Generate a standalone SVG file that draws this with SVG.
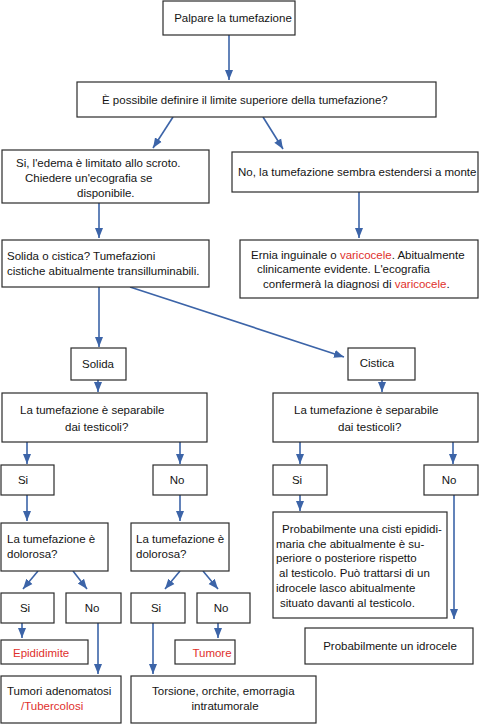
<svg xmlns="http://www.w3.org/2000/svg" width="480" height="724" viewBox="0 0 480 724">
<style>
  rect.b { fill: #ffffff; stroke: #2b2b2b; stroke-width: 1.2; }
  text { font-family: "Liberation Sans", Arial, sans-serif; font-size: 11.5px; fill: #141414; }
  .r { fill: #e0302c; }
  .m { text-anchor: middle; }
  #connectors line { stroke: #3c64a8; stroke-width: 1.6; fill: none; marker-end: url(#ah); }
</style>
<defs>
  <marker id="ah" markerUnits="userSpaceOnUse" markerWidth="10" markerHeight="10" viewBox="0 0 10 10" refX="10" refY="5" orient="auto">
    <path d="M0,1 L10,5 L0,9 Z" fill="#3c64a8"/>
  </marker>
</defs>
<rect width="480" height="724" fill="#ffffff"/>

<g id="connectors">
  <line x1="229" y1="35" x2="229" y2="80"/>
  <line x1="173" y1="117" x2="153" y2="148"/>
  <line x1="263" y1="117" x2="283" y2="149"/>
  <line x1="99" y1="203" x2="99" y2="238"/>
  <line x1="359" y1="192" x2="359" y2="238"/>
  <line x1="99" y1="287" x2="99" y2="347"/>
  <line x1="130" y1="287" x2="344" y2="357"/>
  <line x1="98" y1="380" x2="98" y2="392"/>
  <line x1="382" y1="380" x2="382" y2="392"/>
  <line x1="27" y1="442" x2="27" y2="464"/>
  <line x1="180" y1="442" x2="180" y2="464"/>
  <line x1="300" y1="442" x2="300" y2="464"/>
  <line x1="453" y1="442" x2="453" y2="464"/>
  <line x1="27" y1="495" x2="27" y2="521"/>
  <line x1="180" y1="495" x2="180" y2="521"/>
  <line x1="300" y1="495" x2="300" y2="511"/>
  <line x1="454" y1="495" x2="454" y2="619"/>
  <line x1="38" y1="571" x2="23" y2="589"/>
  <line x1="73" y1="571" x2="87" y2="589"/>
  <line x1="180" y1="571" x2="165" y2="589"/>
  <line x1="203" y1="571" x2="218" y2="589"/>
  <line x1="22" y1="623" x2="22" y2="638"/>
  <line x1="98" y1="623" x2="98" y2="674"/>
  <line x1="153" y1="623" x2="153" y2="674"/>
  <line x1="218" y1="623" x2="218" y2="638"/>
</g>

<g id="palpare"><rect class="b" x="163" y="1" width="132" height="34"/>
  <text x="233" y="22" class="m">Palpare la tumefazione</text></g>
<g id="limite"><rect class="b" x="77" y="82" width="359" height="35"/>
  <text x="102" y="104">È possibile definire il limite superiore della tumefazione?</text></g>
<g id="si-edema"><rect class="b" x="2" y="150" width="207" height="53"/>
  <text x="16" y="167">Si, l'edema è limitato allo scroto.</text>
  <text x="25" y="182">Chiedere un'ecografia se</text>
  <text x="77" y="197">disponibile.</text></g>
<g id="no-monte"><rect class="b" x="232" y="152" width="246" height="40"/>
  <text x="238" y="176">No, la tumefazione sembra estendersi a monte</text></g>
<g id="solida-cistica"><rect class="b" x="2" y="240" width="207" height="47"/>
  <text x="7" y="260">Solida o cistica? Tumefazioni</text>
  <text x="7" y="275">cistiche abitualmente transilluminabili.</text></g>
<g id="ernia"><rect class="b" x="240" y="240" width="238" height="58"/>
  <text x="251" y="259">Ernia inguinale o <tspan class="r">varicocele</tspan>. Abitualmente</text>
  <text x="257" y="273">clinicamente evidente. L'ecografia</text>
  <text x="263" y="288">confermerà la diagnosi di <tspan class="r">varicocele</tspan>.</text></g>
<g id="solida"><rect class="b" x="71" y="348" width="55" height="32"/>
  <text x="98" y="368" class="m">Solida</text></g>
<g id="cistica"><rect class="b" x="348" y="348" width="67" height="32"/>
  <text x="377" y="367" class="m">Cistica</text></g>
<g id="separabile-sx"><rect class="b" x="2" y="393" width="205" height="49"/>
  <text x="20" y="414">La tumefazione è separabile</text>
  <text x="65" y="431">dai testicoli?</text></g>
<g id="separabile-dx"><rect class="b" x="273" y="393" width="205" height="49"/>
  <text x="294" y="414">La tumefazione è separabile</text>
  <text x="338" y="431">dai testicoli?</text></g>
<g id="si-a"><rect class="b" x="1" y="465" width="53" height="30"/>
  <text x="23" y="484" class="m">Si</text></g>
<g id="no-a"><rect class="b" x="153" y="465" width="54" height="30"/>
  <text x="177" y="484" class="m">No</text></g>
<g id="si-b"><rect class="b" x="273" y="465" width="54" height="30"/>
  <text x="297" y="484" class="m">Si</text></g>
<g id="no-b"><rect class="b" x="424" y="465" width="54" height="30"/>
  <text x="449" y="484" class="m">No</text></g>
<g id="dolorosa-sx"><rect class="b" x="1" y="523" width="107" height="48"/>
  <text x="7" y="543">La tumefazione è</text>
  <text x="7" y="558">dolorosa?</text></g>
<g id="dolorosa-dx"><rect class="b" x="131" y="523" width="98" height="48"/>
  <text x="136" y="543">La tumefazione è</text>
  <text x="136" y="558">dolorosa?</text></g>
<g id="cisti"><rect class="b" x="273" y="512" width="174" height="106"/>
  <text x="282" y="533">Probabilmente una cisti epididi-</text>
  <text x="276" y="548">maria che abitualmente è su-</text>
  <text x="276" y="562">periore o posteriore rispetto</text>
  <text x="279" y="577">al testicolo. Può trattarsi di un</text>
  <text x="276" y="592">idrocele lasco abitualmente</text>
  <text x="280" y="607">situato davanti al testicolo.</text></g>
<g id="si-c"><rect class="b" x="1" y="593" width="53" height="30"/>
  <text x="25" y="612" class="m">Si</text></g>
<g id="no-c"><rect class="b" x="66" y="593" width="55" height="30"/>
  <text x="92" y="612" class="m">No</text></g>
<g id="si-d"><rect class="b" x="131" y="593" width="54" height="30"/>
  <text x="156" y="612" class="m">Si</text></g>
<g id="no-d"><rect class="b" x="197" y="593" width="53" height="30"/>
  <text x="221" y="612" class="m">No</text></g>
<g id="epididimite"><rect class="b" x="1" y="640" width="87" height="24"/>
  <text x="13" y="657" class="r">Epididimite</text></g>
<g id="tumore"><rect class="b" x="175" y="640" width="60" height="24"/>
  <text x="212" y="657" class="m r">Tumore</text></g>
<g id="idrocele"><rect class="b" x="305" y="628" width="168" height="36"/>
  <text x="390" y="650" class="m">Probabilmente un idrocele</text></g>
<g id="tumori"><rect class="b" x="1" y="676" width="120" height="47"/>
  <text x="7" y="695">Tumori adenomatosi</text>
  <text x="21" y="710" class="r">/Tubercolosi</text></g>
<g id="torsione"><rect class="b" x="131" y="676" width="185" height="47"/>
  <text x="152" y="695">Torsione, orchite, emorragia</text>
  <text x="225" y="710" class="m">intratumorale</text></g>
</svg>
